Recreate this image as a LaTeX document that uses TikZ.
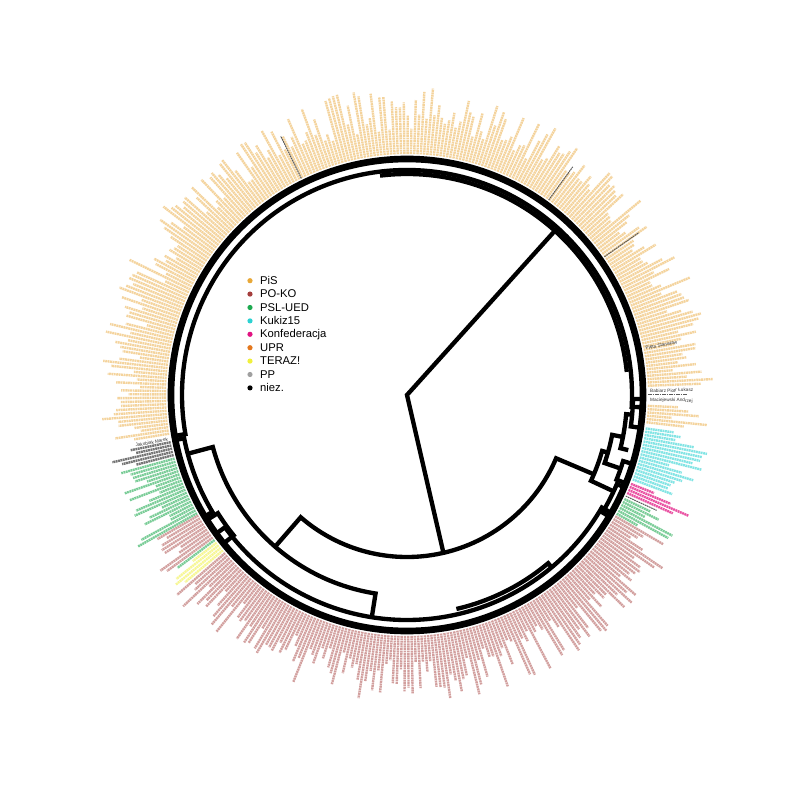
\documentclass[tikz,border=0pt]{standalone}
\usepackage{fontspec}
\setmainfont{Liberation Sans}

\definecolor{pisC}{RGB}{232,168,56}
\definecolor{pokoC}{RGB}{165,62,60}
\definecolor{pslC}{RGB}{30,170,80}
\definecolor{kukizC}{RGB}{45,210,210}
\definecolor{konfC}{RGB}{225,20,130}
\definecolor{uprC}{RGB}{228,120,30}
\definecolor{terazC}{RGB}{240,240,60}
\definecolor{ppC}{RGB}{160,160,160}

\tikzset{
  branch/.style={line width=1.3mm, line join=miter},
  outerring/.style={line width=2mm},
  namestroke/.style={line width=0.72mm, dash pattern=on 0.55mm off 0.18mm},
  niezstroke/.style={line width=0.3mm, black!65, dash pattern=on 0.5mm off 0.2mm},
  niezname/.style={font=\fontsize{4}{4}\selectfont, inner sep=0pt, text=black!80},
  legendtext/.style={font=\fontsize{9.6}{11}\selectfont, anchor=west, inner sep=0pt},
}

% one fan of member names, from angle #1 to angle #2
\newcommand\namefan[3]{%
  \pgfmathtruncatemacro\nfan{(#2-#1)/0.7826}%
  \foreach \k in {0,...,\nfan}{%
    \pgfmathsetmacro\afan{#1+\k*0.7826}%
    \pgfmathsetmacro\rfan{241+24+44*rnd}%
    \draw[namestroke,#3] (\afan:241) -- (\afan:\rfan);
  }}

\begin{document}
\begin{tikzpicture}[x=0.3mm, y=0.3mm]
\useasboundingbox (-407,-405) rectangle (393,395);
\fill[white] (-407,-405) rectangle (393,395);

% names round the tree
\pgfmathsetseed{11}
\namefan{2.2}{189.5}{pisC!50}
\namefan{-6.5}{-2}{pisC!50}
\namefan{-20.5}{-7.2}{kukizC!60}
\namefan{-24}{-21.2}{konfC!75}
\namefan{-29.5}{-25.5}{pslC!60}
\namefan{221}{329.8}{pokoC!50}
\namefan{210}{216.5}{pokoC!50}
\namefan{217.8}{220.5}{terazC!55}
\namefan{217}{217.2}{pslC!60}
\namefan{195.3}{209.5}{pslC!60}
\namefan{191.3}{194.6}{black!55}
\draw[niezstroke] (116:241) -- (116:288);
\draw[niezstroke] (54:241) -- (54:282);
\draw[niezstroke] (35:241) -- (35:283);
\draw[niezstroke] (0:241) -- (0:280);
\draw[niezstroke] (-24.8:241) -- (-24.8:275);
\node[niezname, anchor=west, rotate=11] (pieta) at (11:243) {Pięta Stanisław};
\node[niezname, anchor=west, rotate=1] (babiarz) at (1:243) {Babiarz Piotr Łukasz};
\node[niezname, anchor=west, rotate=-1.2] (maciejewski) at (-1.2:243) {Maciejewski Andrzej};
\node[niezname, anchor=east, rotate=10.5] (jakubiak) at (190.5:243) {Jakubiak Marek};

% tree
\draw[outerring] (0,0) circle (236);
\draw[branch] (48:225) -- (0,0) -- (-77:162);
\draw[branch] (-23:203) -- (-23:162) arc[start angle=-23, end angle=-131, radius=162] -- (-131:201);
\draw[branch] (195:227) -- (195:201) arc[start angle=195, end angle=261, radius=201] -- (261:225);
% PiS
\draw[branch] (-3:236) -- (-3:225) arc[start angle=-3, end angle=190, radius=225] -- (190:236);
\draw[branch] (97:221) arc[start angle=97, end angle=6, radius=221];
% PSL-UED
\draw[branch] (191:236) -- (191:227) arc[start angle=191, end angle=211, radius=227] -- (211:236);
\draw[branch] (212:236) -- (212:223) arc[start angle=212, end angle=219, radius=223] -- (219:236);
% PO-KO
\draw[branch] (216:236) -- (216:225) arc[start angle=216, end angle=330, radius=225] -- (330:236);
\draw[branch] (283:219.6) arc[start angle=283, end angle=310, radius=219.6] -- (310:225);
% Kukiz15 and Konfederacja
\draw[branch] (-25:228) -- (-25:203) arc[start angle=-25, end angle=-16, radius=203] -- (-16:209);
\draw[branch] (-19:226) -- (-19:209) arc[start angle=-19, end angle=-11, radius=209] -- (-11:220);
\draw[branch] (-14:228) -- (-14:220) arc[start angle=-14, end angle=-5, radius=220] -- (-5:226);
\draw[branch] (-22:236) -- (-22:226) arc[start angle=-22, end angle=-17, radius=226] -- (-17:236);
\draw[branch] (-8:236) -- (-8:226) arc[start angle=-8, end angle=-1, radius=226] -- (-1:236);
\draw[branch] (-31:236) -- (-31:228) arc[start angle=-31, end angle=-23, radius=228] -- (-23:236);

% legend
\foreach \party/\col [count=\k from 0] in {PiS/pisC, PO-KO/pokoC, PSL-UED/pslC, Kukiz15/kukizC, Konfederacja/konfC, UPR/uprC, TERAZ!/terazC, PP/ppC, niez./black} {
  \fill[\col] (-157,114.3-\k*13.4) circle (2.6);
  \node[legendtext] (leg\k) at (-147,114.3-\k*13.4) {\party};
}
\end{tikzpicture}
\end{document}
